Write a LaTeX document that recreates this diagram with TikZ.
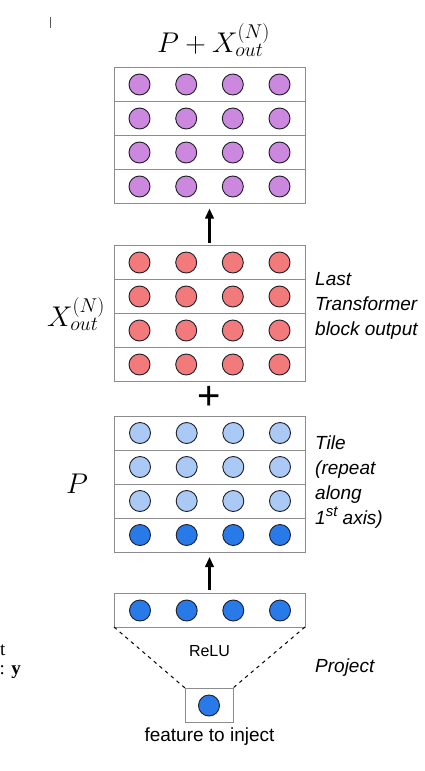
\RequirePackage{fix-cm}
\documentclass[tikz,border=0pt]{standalone}
\usepackage{fontspec}
\setsansfont{Liberation Sans}
\newfontfamily\fragfont{Liberation Serif}
\usetikzlibrary{arrows.meta}
\definecolor{boxgray}{RGB}{140,140,140}
\definecolor{dotline}{RGB}{30,30,40}
\definecolor{cpurple}{RGB}{204,136,222}
\definecolor{cred}{RGB}{242,122,122}
\definecolor{clight}{RGB}{170,202,245}
\definecolor{cblue}{RGB}{40,122,232}
\begin{document}
\begin{tikzpicture}[x=1pt,y=-1pt,
  rowbox/.style={draw=boxgray, line width=0.8pt, minimum width=191pt, minimum height=34pt, inner sep=0pt, outer sep=0pt},
  smallbox/.style={draw=boxgray, line width=0.8pt, minimum width=48pt, minimum height=34pt, inner sep=0pt, outer sep=0pt},
  dot/.style={circle, draw=dotline, line width=0.9pt, minimum size=21pt, inner sep=0pt},
  lab/.style={font=\sffamily\itshape\fontsize{19}{25}\selectfont, align=left, anchor=north west, inner sep=0pt},
  mathlab/.style={font=\fontsize{28.5}{30}\selectfont, inner sep=0pt},
  plainlab/.style={font=\sffamily\fontsize{19}{22}\selectfont, inner sep=0pt},
  uparrow/.style={-{Triangle[length=10pt,width=8.5pt]}, line width=2.2pt, black, shorten >=5pt, shorten <=3pt},
  proj/.style={black, line width=1pt, dash pattern=on 3.5pt off 4pt}
]
\useasboundingbox (0,0) rectangle (425,771);
\clip (0,0) rectangle (425,771);
\fill[white] (0,0) rectangle (425,771);

% fragments on the left edge
\draw[gray!70!black, line width=1pt] (50.5,17) -- (50.5,28);
\node[font=\fragfont\fontsize{19}{22}\selectfont, anchor=base east, inner sep=0pt] (fragt) at (5.5,655) {t};
\node[font=\fragfont\fontsize{19}{22}\selectfont, anchor=base east, inner sep=0pt] (fragy) at (21,674) {: \textbf{y}};

% top title
\node[mathlab] (title) at (213.5,40) {$P + X_{out}^{(N)}$};

% purple block
\foreach \r/\y in {1/84.5,2/118.5,3/152.5,4/186.5}{
  \node[rowbox] (pr\r) at (209.5,\y) {};
  \foreach \c/\x in {1/139.5,2/186.2,3/232.8,4/279.5}
    \node[dot, fill=cpurple] (p\r\c) at (\x,\y) {};
}

% red block
\foreach \r/\y in {1/262.5,2/296.5,3/330.5,4/364.5}{
  \node[rowbox] (rr\r) at (209.5,\y) {};
  \foreach \c/\x in {1/139.5,2/186.2,3/232.8,4/279.5}
    \node[dot, fill=cred] (r\r\c) at (\x,\y) {};
}
\node[mathlab] (xlab) at (76,314) {$X_{out}^{(N)}$};
\node[lab] (lastlab) at (315,272) {Last\\Transformer\\block output};

\draw[uparrow] (rr1.north) -- (pr4.south);

% plus
\node[font=\sffamily\fontsize{40}{40}\selectfont, inner sep=0pt] (plus) at (209.5,398) {+};

% blue block
\foreach \r/\y/\col in {1/433/clight,2/467/clight,3/501/clight,4/535/cblue}{
  \node[rowbox] (br\r) at (209.5,\y) {};
  \foreach \c/\x in {1/140,2/186.7,3/233.3,4/280}
    \node[dot, fill=\col] (b\r\c) at (\x,\y) {};
}
\node[mathlab] (plab) at (77,484) {$P$};
\node[lab] (tilelab) at (315,436) {Tile\\(repeat\\along\\1\raisebox{0.42em}{\fontsize{15}{15}\selectfont st} axis)};

% projected row
\node[rowbox] (proj) at (209.5,610) {};
\foreach \c/\x in {1/140,2/186.7,3/233.3,4/280}
  \node[dot, fill=cblue] (q\c) at (\x,610.5) {};

\draw[uparrow] (proj.north) -- (br4.south);

% feature to inject
\node[smallbox] (feat) at (209,705) {};
\node[dot, fill=cblue] (fdot) at (209,705.5) {};
\draw[proj] (proj.south west) -- (feat.north west);
\draw[proj] (proj.south east) -- (feat.north east);
\node[font=\sffamily\fontsize{16}{18}\selectfont, inner sep=0pt] (relu) at (209.5,651) {ReLU};
\node[lab, anchor=west] (projlab) at (315,668) {Project};
\node[plainlab] (featlab) at (209.5,737) {feature to inject};
\end{tikzpicture}
\end{document}
